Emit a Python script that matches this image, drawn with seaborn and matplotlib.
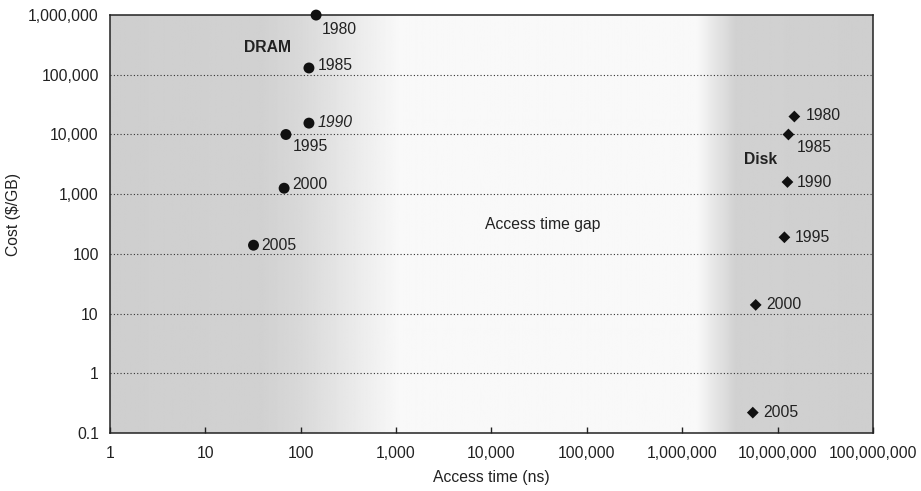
import numpy as np
import pandas as pd
import matplotlib
matplotlib.use("Agg")
import matplotlib.pyplot as plt
import seaborn as sns
from matplotlib.ticker import FixedLocator, FuncFormatter, NullLocator

# DRAM vs disk, cost per GB against access time
years = ["1980", "1985", "1990", "1995", "2000", "2005"]
dram_access_ns = [145, 122, 122, 70, 67, 32]
dram_cost = [1000000, 130000, 15500, 10000, 1260, 140]
disk_access_ns = [15000000, 13000000, 12700000, 11800000, 5900000, 5500000]
disk_cost = [20000, 10000, 1600, 190, 14, 0.22]

x_ticks = [1, 10, 100, 1000, 10000, 100000, 1000000, 10000000, 100000000]
y_ticks = [0.1, 1, 10, 100, 1000, 10000, 100000, 1000000]

df = pd.concat([
    pd.DataFrame({"tech": "DRAM", "year": years, "access": dram_access_ns, "cost": dram_cost}),
    pd.DataFrame({"tech": "Disk", "year": years, "access": disk_access_ns, "cost": disk_cost}),
], ignore_index=True)

sns.set_style("white")
plt.rcParams["font.family"] = ["Liberation Sans", "DejaVu Sans"]
FS = 11.3
TXT = "#222222"

fig = plt.figure(figsize=(9.21, 4.91), dpi=100)
ax = fig.add_axes([0.1194, 0.118, 0.8284, 0.8513])

# shaded background: gray over DRAM and disk ranges, white gap in between
pos = np.linspace(0, 1, 800)
shade = np.interp(pos, [0, 0.2, 0.25, 0.38, 0.77, 0.82, 1.0],
                  [0.81, 0.82, 0.85, 0.975, 0.975, 0.82, 0.81])
ax.imshow(np.tile(shade, (2, 1)), cmap="gray", vmin=0, vmax=1, aspect="auto",
          extent=[0, 1, 0, 1], transform=ax.transAxes, zorder=0)

ax.set_xscale("log")
ax.set_yscale("log")
ax.set_xlim(1, 1e8)
ax.set_ylim(0.1, 1e6)

sns.scatterplot(data=df, x="access", y="cost", style="tech",
                markers={"DRAM": "o", "Disk": "D"}, hue="tech",
                palette={"DRAM": "#111111", "Disk": "#111111"},
                size="tech", sizes={"DRAM": 62, "Disk": 36},
                edgecolor="none", legend=False, ax=ax, zorder=5, clip_on=False)

# year labels next to the points (pixel offsets)
dram_off = [(6, -14), (9, 2), (9, 1), (7, -12), (8, 4), (8, 0)]
disk_off = [(11, 1), (8, -13), (9, 0), (10, 0), (11, 0), (10, 0)]
for i, yr in enumerate(years):
    ax.annotate(yr, (dram_access_ns[i], dram_cost[i]), xytext=dram_off[i],
                textcoords="offset pixels", va="center", ha="left", fontsize=FS,
                color=TXT, style="italic" if yr == "1990" else "normal",
                annotation_clip=False)
    ax.annotate(yr, (disk_access_ns[i], disk_cost[i]), xytext=disk_off[i],
                textcoords="offset pixels", va="center", ha="left", fontsize=FS,
                color=TXT, annotation_clip=False)

ax.text(0.207, 0.923, "DRAM", transform=ax.transAxes, fontsize=FS,
        fontweight="bold", ha="center", va="center", color=TXT)
ax.text(0.853, 0.655, "Disk", transform=ax.transAxes, fontsize=FS,
        fontweight="bold", ha="center", va="center", color=TXT)
ax.text(0.567, 0.5, "Access time gap", transform=ax.transAxes, fontsize=FS,
        ha="center", va="center", color=TXT)

# dotted horizontal grid
for yv in y_ticks[1:-1]:
    ax.axhline(yv, color="#333333", linestyle=(0, (1, 2)), linewidth=0.8, zorder=2)

ax.xaxis.set_major_locator(FixedLocator(x_ticks))
ax.yaxis.set_major_locator(FixedLocator(y_ticks))
ax.xaxis.set_minor_locator(NullLocator())
ax.yaxis.set_minor_locator(NullLocator())
fmt = FuncFormatter(lambda v, p: "0.1" if v < 1 else f"{v:,.0f}")
ax.xaxis.set_major_formatter(fmt)
ax.yaxis.set_major_formatter(fmt)

ax.tick_params(axis="x", direction="in", length=4, width=1, colors=TXT,
               labelsize=FS, pad=9, bottom=True)
ax.tick_params(axis="y", length=0, labelsize=FS, pad=8, colors=TXT)

for side in ["left", "bottom", "top", "right"]:
    ax.spines[side].set_visible(True)
    ax.spines[side].set_color(TXT)
    ax.spines[side].set_linewidth(1.1)

ax.set_xlabel("Access time (ns)", fontsize=FS, color=TXT)
ax.xaxis.set_label_coords(0.5, -0.088)
ax.set_ylabel("Cost (\\$/GB)", fontsize=FS, color=TXT)
ax.yaxis.set_label_coords(-0.117, 0.524)

fig.savefig("out.png", dpi=100)
